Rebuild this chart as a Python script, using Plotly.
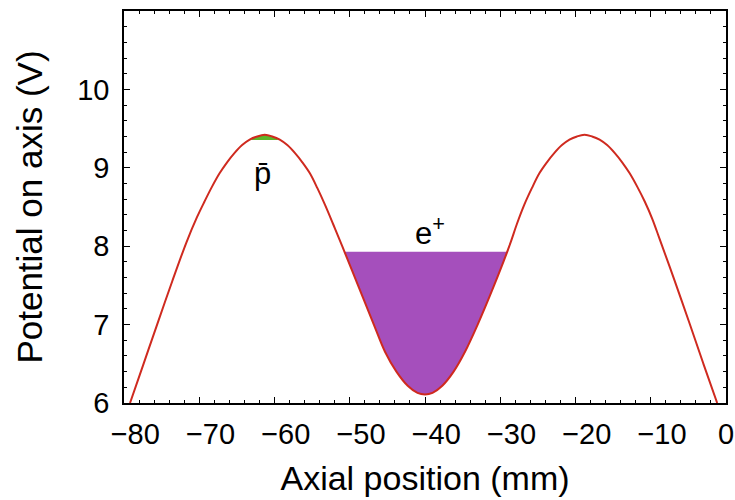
import plotly.graph_objects as go

# Potential curve (axial position in mm, potential in V)
pos_mm = [-79.2, -77.4, -75.6, -73.6, -71.7, -70.3, -69.3, -68.3, -67.3, -66.3,
          -65.3, -64.3, -63.3, -62.3, -61.3, -60.3, -59.3, -58.3, -57.3, -56.3,
          -55.3, -54.3, -53.3, -52.2, -51.0, -48.9, -46.8, -45.3, -43.8, -42.3,
          -41.0, -40.0, -39.0, -37.7, -36.2, -34.7, -33.0, -30.9, -28.8, -27.8,
          -26.8, -25.8, -24.8, -23.8, -22.8, -21.8, -20.8, -19.8, -18.8, -17.8,
          -16.8, -15.8, -14.8, -13.8, -12.8, -11.8, -10.8, -9.8, -8.85, -6.9,
          -4.86, -3.0, -1.17]
potential_v = [6.0, 6.5, 7.0, 7.55, 8.05, 8.37, 8.57, 8.76, 8.93, 9.07,
               9.19, 9.29, 9.36, 9.40, 9.42, 9.40, 9.36, 9.29, 9.19, 9.07,
               8.93, 8.74, 8.53, 8.28, 8.0, 7.5, 7.0, 6.65, 6.4, 6.22,
               6.13, 6.11, 6.13, 6.22, 6.4, 6.65, 7.0, 7.48, 8.0, 8.28,
               8.53, 8.74, 8.93, 9.07, 9.19, 9.29, 9.36, 9.40, 9.42, 9.40,
               9.36, 9.29, 9.19, 9.07, 8.93, 8.76, 8.57, 8.35, 8.1, 7.58,
               7.02, 6.5, 6.0]

# Positron (e+) fill: level and bounding positions
eplus_level = 7.93
eplus_x0, eplus_x1 = -50.75, -29.1
# Antiproton fill: level and bounding positions
pbar_level = 9.355
pbar_x0, pbar_x1 = -63.15, -59.45

x_ticks = [-80, -70, -60, -50, -40, -30, -20, -10, 0]
x_tick_text = ["\u2002\u00a0\u221280", "\u2002\u00a0\u221270", "\u2002\u00a0\u221260",
               "\u2002\u00a0\u221250", "\u2002\u00a0\u221240", "\u2002\u00a0\u221230",
               "\u2002\u00a0\u221220", "\u2002\u00a0\u221210", "0"]
y_ticks = [6, 7, 8, 9, 10]

LINE = "#cf2a1f"
PURPLE = "#a54fbc"
GREEN = "#5db52a"
FONT = "Liberation Sans, Arial, Helvetica, sans-serif"


def segment(x0, x1, level):
    xs = [x0] + [x for x in pos_mm if x0 < x < x1] + [x1]
    ys = [level] + [y for x, y in zip(pos_mm, potential_v) if x0 < x < x1] + [level]
    return xs, ys


fig = go.Figure()

for x0, x1, lvl, col in [(eplus_x0, eplus_x1, eplus_level, PURPLE),
                         (pbar_x0, pbar_x1, pbar_level, GREEN)]:
    xs, ys = segment(x0, x1, lvl)
    fig.add_trace(go.Scatter(x=xs, y=[lvl] * len(xs), mode="lines",
                             line=dict(width=0, color=col), hoverinfo="skip",
                             showlegend=False))
    fig.add_trace(go.Scatter(x=xs, y=ys, mode="lines", fill="tonexty",
                             fillcolor=col, line=dict(width=0, color=col, shape="spline"),
                             hoverinfo="skip", showlegend=False))

fig.add_trace(go.Scatter(x=pos_mm, y=potential_v, mode="lines",
                         line=dict(color=LINE, width=2, shape="spline"),
                         showlegend=False))

fig.add_annotation(x=-61.6, y=8.93, text="p\u0304", showarrow=False,
                   font=dict(family=FONT, size=31, color="black"))
fig.add_annotation(x=-39.4, y=8.2, text="e<sup>+</sup>", showarrow=False,
                   font=dict(family=FONT, size=31, color="black"))

axis_common = dict(showline=True, linecolor="black", linewidth=1.6, mirror="allticks",
                   ticks="inside", ticklen=6, tickwidth=1.2, tickcolor="black",
                   showgrid=False, zeroline=False, automargin=False,
                   tickfont=dict(family=FONT, size=29, color="black"))

fig.update_xaxes(range=[-80, 0], tickvals=x_ticks, ticktext=x_tick_text, ticklabelstandoff=4,
                 minor=dict(ticks="inside", dtick=2, ticklen=3.5, tickwidth=1, tickcolor="black"),
                 title=dict(text="Axial position (mm)", font=dict(family=FONT, size=34, color="black"),
                            standoff=18),
                 **axis_common)
fig.update_yaxes(range=[6, 11], tickvals=y_ticks, ticklabelstandoff=7,
                 minor=dict(ticks="inside", dtick=0.2, ticklen=3.5, tickwidth=1, tickcolor="black"),
                 title=dict(text="Potential on axis (V)", font=dict(family=FONT, size=35, color="black"),
                            standoff=24),
                 **axis_common)

fig.update_layout(width=735, height=500, margin=dict(l=124, r=9, t=11, b=97),
                  paper_bgcolor="white", plot_bgcolor="white", showlegend=False)

fig.write_html("out.html")
